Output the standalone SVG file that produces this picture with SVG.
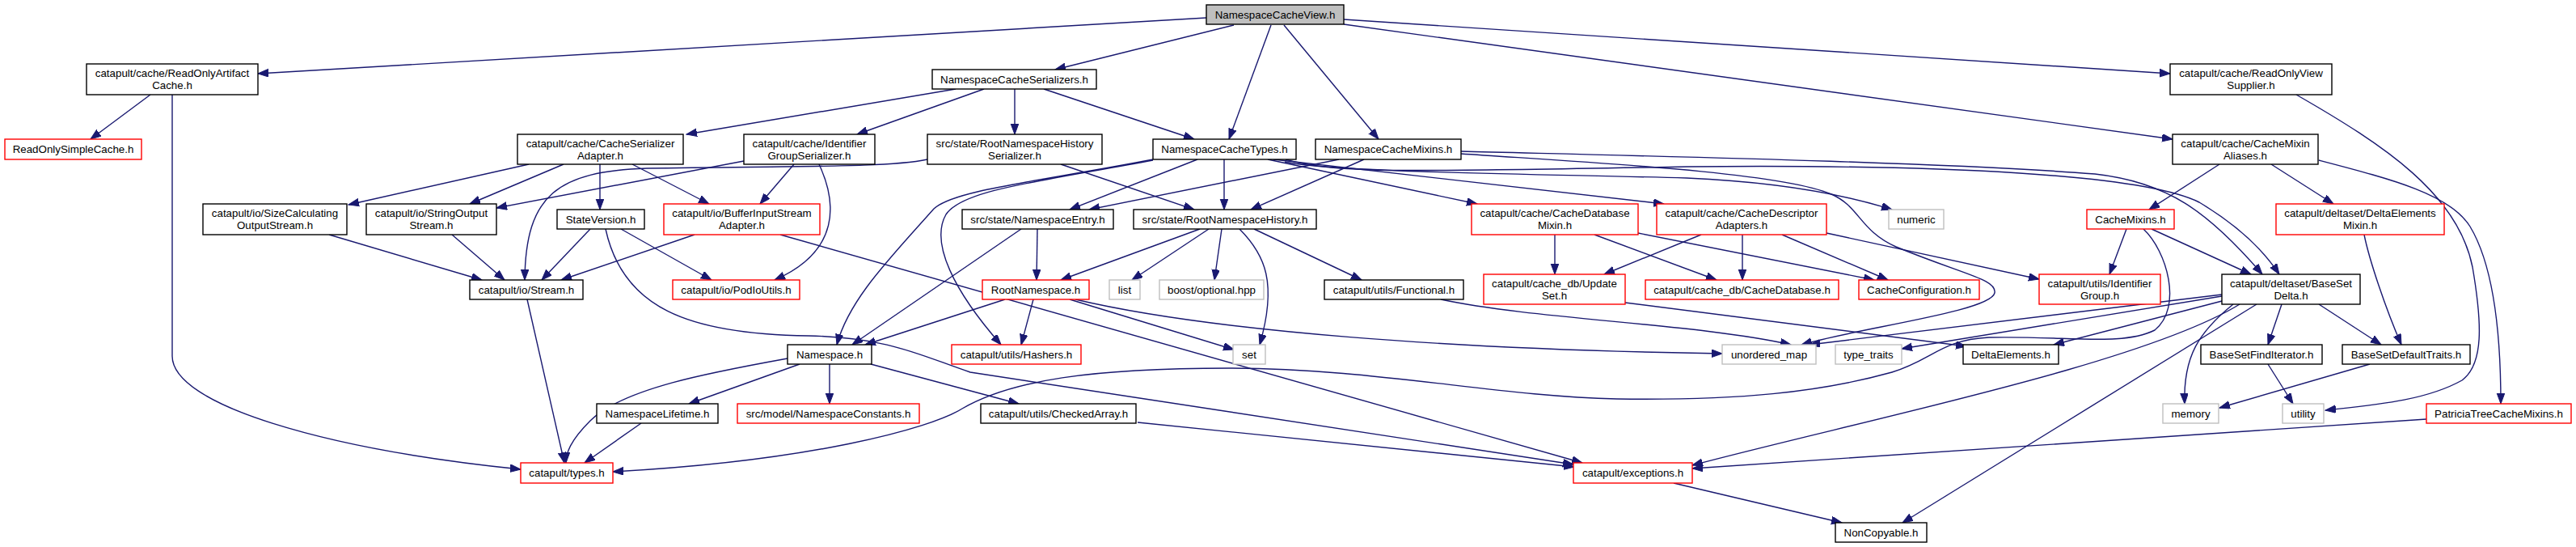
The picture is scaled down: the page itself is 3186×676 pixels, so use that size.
<svg xmlns="http://www.w3.org/2000/svg" width="3186" height="676" viewBox="0 0 3186 676">
<style>
.n rect{fill:#fff;stroke:#000;stroke-width:1.4}
.n.r rect{stroke:#ff0000}
.n.g rect{stroke:#bfbfbf}
.n.top rect{fill:#bfbfbf}
.n text{font-family:"Liberation Sans",Arial,Helvetica,sans-serif;font-size:13.33px;text-anchor:middle;fill:#000}
#edges path{fill:none;stroke:#191970;stroke-width:1.4;marker-end:url(#ah)}
</style>
<defs>
<marker id="ah" markerUnits="userSpaceOnUse" markerWidth="15" markerHeight="11" refX="13" refY="4.8" orient="auto">
<path d="M0,0 L13,4.8 L0,9.6 z" fill="#191970" stroke="#191970" stroke-width="1"/>
</marker>
</defs>
<rect width="3186" height="676" fill="#fff"/>
<g id="edges">
<path d="M1492,22 L319,91"/>
<path d="M1526,31 L1305,86"/>
<path d="M1572,31 L1520,172"/>
<path d="M1588,31 L1705,172"/>
<path d="M1662,24 L2684,91"/>
<path d="M1662,30 L2687,172"/>
<path d="M186,117 L112,172"/>
<path d="M213,117 L213,440 C213,500 400,555 644,580"/>
<path d="M1182,110 L849,166"/>
<path d="M1217,110 L1060,166"/>
<path d="M1255,110 L1255,166"/>
<path d="M1291,110 L1477,172"/>
<path d="M654,203 L431,253"/>
<path d="M697,203 L581,252"/>
<path d="M742,203 L742,259"/>
<path d="M782,203 L877,252"/>
<path d="M920,199 L614,257"/>
<path d="M982,203 L940,252"/>
<path d="M1013,203 C1035,250 1040,310 958,346"/>
<path d="M1147,197 C1100,207 1000,205 800,208 C690,212 650,240 649,346"/>
<path d="M1312,203 L1477,259"/>
<path d="M407,290 L596,346"/>
<path d="M559,290 L624,346"/>
<path d="M730,283 L670,346"/>
<path d="M859,290 L694,346"/>
<path d="M768,283 L880,346"/>
<path d="M749,283 C770,380 850,413 1000,415 C1100,417 1140,440 1200,460 L1946,574"/>
<path d="M965,290 L1957,572"/>
<path d="M652,370 L698,572"/>
<path d="M1426,197 C1280,225 1180,235 1155,258 C1100,320 1050,370 1035,426"/>
<path d="M1426,198 C1280,225 1190,235 1170,265 C1150,300 1180,360 1238,426"/>
<path d="M1481,197 L1323,259"/>
<path d="M1514,197 L1514,259"/>
<path d="M1568,197 L1827,252"/>
<path d="M1575,197 L2058,252"/>
<path d="M1590,197 C1650,215 1750,212 2086,206 C2400,203 2650,215 2720,250 C2770,280 2800,310 2819,339"/>
<path d="M1589,200 C1650,213 1900,215 2086,220 C2200,225 2280,240 2340,259"/>
<path d="M1656,197 L1347,259"/>
<path d="M1687,197 L1547,259"/>
<path d="M1807,187 C2000,192 2400,200 2591,215 C2680,225 2730,260 2798,339"/>
<path d="M1807,190 C1950,200 2200,212 2265,240 C2300,255 2300,285 2345,305 C2430,340 2470,345 2467,362 C2462,385 2300,405 2228,426"/>
<path d="M1263,283 L1054,426"/>
<path d="M1283,283 L1282,346"/>
<path d="M1484,283 L1312,346"/>
<path d="M1495,283 L1400,346"/>
<path d="M1511,283 L1502,346"/>
<path d="M1533,283 C1565,315 1580,350 1558,426"/>
<path d="M1551,283 L1684,346"/>
<path d="M1243,370 L1070,426"/>
<path d="M1278,370 L1263,426"/>
<path d="M1323,370 L1526,432"/>
<path d="M1330,370 C1500,410 1800,432 2130,437"/>
<path d="M1782,370 C1900,395 2100,400 2215,426"/>
<path d="M2010,374 L2432,428"/>
<path d="M1923,290 L1923,339"/>
<path d="M1972,290 L2123,346"/>
<path d="M2026,288 L2318,346"/>
<path d="M2104,290 L1984,339"/>
<path d="M2155,290 L2155,346"/>
<path d="M2204,290 L2335,346"/>
<path d="M2259,288 L2522,345"/>
<path d="M2745,203 L2658,259"/>
<path d="M2809,203 L2886,252"/>
<path d="M2868,198 C2960,222 3030,240 3055,280 C3085,330 3093,420 3093,499"/>
<path d="M2840,117 C2950,180 3040,240 3058,330 C3070,400 3072,450 3045,470 C3000,495 2940,500 2876,507"/>
<path d="M2630,283 L2609,339"/>
<path d="M2661,283 L2784,339"/>
<path d="M2651,283 C2680,310 2700,380 2665,408 C2625,428 2560,415 2460,417 C2400,420 2390,445 2340,460 C2250,485 2150,495 2000,493 C1850,490 1700,455 1520,455 C1350,455 1250,470 1190,505 C1150,530 1000,570 758,583"/>
<path d="M2924,290 C2930,320 2950,380 2970,426"/>
<path d="M2748,364 L2238,426"/>
<path d="M2748,366 L2352,431"/>
<path d="M2752,371 L2540,426"/>
<path d="M2770,376 C2650,450 2300,520 2093,575"/>
<path d="M2791,376 L2353,646"/>
<path d="M2762,376 C2720,410 2700,440 2702,499"/>
<path d="M2822,376 L2805,426"/>
<path d="M2868,376 L2945,426"/>
<path d="M2805,450 L2836,499"/>
<path d="M2931,450 L2745,504"/>
<path d="M3001,518 L2093,579"/>
<path d="M2070,597 L2278,646"/>
<path d="M1407,522 L1947,577"/>
<path d="M1077,450 L1260,499"/>
<path d="M989,450 L852,499"/>
<path d="M1026,450 L1026,499"/>
<path d="M974,443 C880,460 770,480 730,520 C705,545 700,560 700,572"/>
<path d="M793,523 L723,572"/>
</g>
<g id="NCV" class="n top"><rect x="1492" y="6" width="170" height="24"/><text x="1577" y="23">NamespaceCacheView.h</text></g>
<g id="ROAC" class="n"><rect x="107" y="79" width="212" height="38"/><text x="213" y="95">catapult/cache/ReadOnlyArtifact</text><text x="213" y="110">Cache.h</text></g>
<g id="ROSC" class="n r"><rect x="6" y="172" width="169" height="25"/><text x="90.5" y="189">ReadOnlySimpleCache.h</text></g>
<g id="NCS" class="n"><rect x="1153" y="86" width="203" height="24"/><text x="1254.5" y="103">NamespaceCacheSerializers.h</text></g>
<g id="ROVS" class="n"><rect x="2684" y="79" width="200" height="38"/><text x="2784" y="95">catapult/cache/ReadOnlyView</text><text x="2784" y="110">Supplier.h</text></g>
<g id="CMA" class="n"><rect x="2687" y="166" width="180" height="37"/><text x="2777" y="182">catapult/cache/CacheMixin</text><text x="2777" y="197">Aliases.h</text></g>
<g id="CSA" class="n"><rect x="640" y="166" width="205" height="37"/><text x="742.5" y="182">catapult/cache/CacheSerializer</text><text x="742.5" y="197">Adapter.h</text></g>
<g id="IGS" class="n"><rect x="920" y="166" width="162" height="37"/><text x="1001" y="182">catapult/cache/Identifier</text><text x="1001" y="197">GroupSerializer.h</text></g>
<g id="RNHS" class="n"><rect x="1147" y="166" width="216" height="37"/><text x="1255" y="182">src/state/RootNamespaceHistory</text><text x="1255" y="197">Serializer.h</text></g>
<g id="NCT" class="n"><rect x="1426" y="172" width="177" height="25"/><text x="1514.5" y="189">NamespaceCacheTypes.h</text></g>
<g id="NCM" class="n"><rect x="1627" y="172" width="180" height="25"/><text x="1717" y="189">NamespaceCacheMixins.h</text></g>
<g id="SCOS" class="n"><rect x="251" y="252" width="178" height="38"/><text x="340" y="268">catapult/io/SizeCalculating</text><text x="340" y="283">OutputStream.h</text></g>
<g id="SOS" class="n"><rect x="453" y="252" width="161" height="38"/><text x="533.5" y="268">catapult/io/StringOutput</text><text x="533.5" y="283">Stream.h</text></g>
<g id="SV" class="n"><rect x="689" y="259" width="108" height="24"/><text x="743" y="276">StateVersion.h</text></g>
<g id="BISA" class="n r"><rect x="821" y="252" width="193" height="38"/><text x="917.5" y="268">catapult/io/BufferInputStream</text><text x="917.5" y="283">Adapter.h</text></g>
<g id="NE" class="n"><rect x="1190" y="259" width="187" height="24"/><text x="1283.5" y="276">src/state/NamespaceEntry.h</text></g>
<g id="RNH" class="n"><rect x="1402" y="259" width="226" height="24"/><text x="1515" y="276">src/state/RootNamespaceHistory.h</text></g>
<g id="CDM" class="n r"><rect x="1820" y="252" width="206" height="38"/><text x="1923" y="268">catapult/cache/CacheDatabase</text><text x="1923" y="283">Mixin.h</text></g>
<g id="CDA" class="n r"><rect x="2049" y="252" width="210" height="38"/><text x="2154" y="268">catapult/cache/CacheDescriptor</text><text x="2154" y="283">Adapters.h</text></g>
<g id="numeric" class="n g"><rect x="2336" y="259" width="68" height="24"/><text x="2370" y="276">numeric</text></g>
<g id="CM" class="n r"><rect x="2581" y="259" width="108" height="24"/><text x="2635" y="276">CacheMixins.h</text></g>
<g id="DEM" class="n r"><rect x="2815" y="252" width="208" height="38"/><text x="2919" y="268">catapult/deltaset/DeltaElements</text><text x="2919" y="283">Mixin.h</text></g>
<g id="Stream" class="n"><rect x="581" y="346" width="140" height="24"/><text x="651" y="363">catapult/io/Stream.h</text></g>
<g id="PodIo" class="n r"><rect x="832" y="346" width="157" height="24"/><text x="910.5" y="363">catapult/io/PodIoUtils.h</text></g>
<g id="RN" class="n r"><rect x="1215" y="346" width="132" height="24"/><text x="1281" y="363">RootNamespace.h</text></g>
<g id="list" class="n g"><rect x="1372" y="346" width="38" height="24"/><text x="1391" y="363">list</text></g>
<g id="boost" class="n g"><rect x="1434" y="346" width="129" height="24"/><text x="1498.5" y="363">boost/optional.hpp</text></g>
<g id="Functional" class="n"><rect x="1638" y="346" width="172" height="24"/><text x="1724" y="363">catapult/utils/Functional.h</text></g>
<g id="UpdateSet" class="n r"><rect x="1835" y="339" width="175" height="37"/><text x="1922.5" y="355">catapult/cache_db/Update</text><text x="1922.5" y="370">Set.h</text></g>
<g id="CDB" class="n r"><rect x="2035" y="346" width="239" height="24"/><text x="2154.5" y="363">catapult/cache_db/CacheDatabase.h</text></g>
<g id="CC" class="n r"><rect x="2299" y="346" width="149" height="24"/><text x="2373.5" y="363">CacheConfiguration.h</text></g>
<g id="IG" class="n r"><rect x="2522" y="339" width="150" height="37"/><text x="2597" y="355">catapult/utils/Identifier</text><text x="2597" y="370">Group.h</text></g>
<g id="BSD" class="n"><rect x="2748" y="339" width="171" height="37"/><text x="2833.5" y="355">catapult/deltaset/BaseSet</text><text x="2833.5" y="370">Delta.h</text></g>
<g id="NS" class="n"><rect x="974" y="426" width="104" height="24"/><text x="1026" y="443">Namespace.h</text></g>
<g id="Hashers" class="n r"><rect x="1177" y="426" width="160" height="24"/><text x="1257" y="443">catapult/utils/Hashers.h</text></g>
<g id="set" class="n g"><rect x="1525" y="426" width="40" height="24"/><text x="1545" y="443">set</text></g>
<g id="umap" class="n g"><rect x="2130" y="426" width="116" height="24"/><text x="2188" y="443">unordered_map</text></g>
<g id="tt" class="n g"><rect x="2270" y="426" width="82" height="24"/><text x="2311" y="443">type_traits</text></g>
<g id="DE" class="n"><rect x="2428" y="426" width="118" height="24"/><text x="2487" y="443">DeltaElements.h</text></g>
<g id="BSFI" class="n"><rect x="2722" y="426" width="150" height="24"/><text x="2797" y="443">BaseSetFindIterator.h</text></g>
<g id="BSDT" class="n"><rect x="2897" y="426" width="158" height="24"/><text x="2976" y="443">BaseSetDefaultTraits.h</text></g>
<g id="NL" class="n"><rect x="738" y="499" width="150" height="24"/><text x="813" y="516">NamespaceLifetime.h</text></g>
<g id="NSC" class="n r"><rect x="912" y="499" width="225" height="24"/><text x="1024.5" y="516">src/model/NamespaceConstants.h</text></g>
<g id="CA" class="n"><rect x="1213" y="499" width="192" height="24"/><text x="1309" y="516">catapult/utils/CheckedArray.h</text></g>
<g id="memory" class="n g"><rect x="2675" y="499" width="69" height="24"/><text x="2709.5" y="516">memory</text></g>
<g id="utility" class="n g"><rect x="2823" y="499" width="51" height="24"/><text x="2848.5" y="516">utility</text></g>
<g id="PTCM" class="n r"><rect x="3001" y="499" width="179" height="24"/><text x="3090.5" y="516">PatriciaTreeCacheMixins.h</text></g>
<g id="types" class="n r"><rect x="644" y="572" width="114" height="25"/><text x="701" y="589">catapult/types.h</text></g>
<g id="exc" class="n r"><rect x="1946" y="572" width="147" height="25"/><text x="2019.5" y="589">catapult/exceptions.h</text></g>
<g id="NC" class="n"><rect x="2270" y="646" width="113" height="24"/><text x="2326.5" y="663">NonCopyable.h</text></g>
</svg>
